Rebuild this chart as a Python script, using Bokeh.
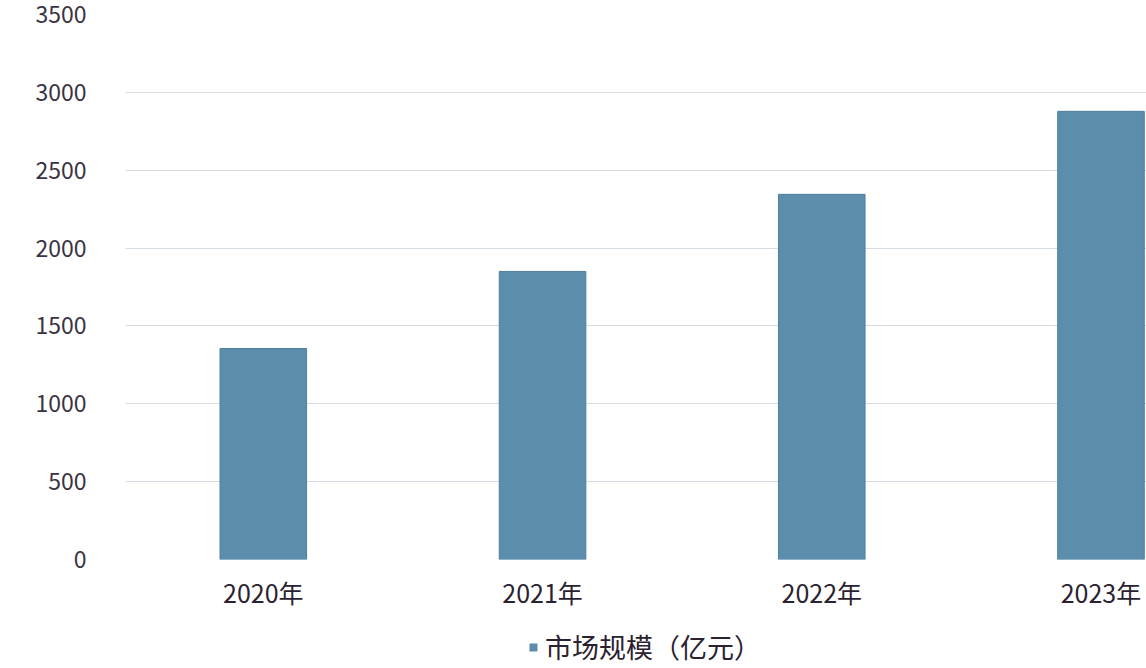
from bokeh.plotting import figure
from bokeh.layouts import column
from bokeh.models import Range1d, Legend, LegendItem, FixedTicker, ColumnDataSource
from bokeh.embed import file_html
from bokeh.resources import INLINE

years = ["2020年", "2021年", "2022年", "2023年"]
values = [1355, 1850, 2345, 2878]
series_name = "市场规模（亿元）"
y_ticks = [0, 500, 1000, 1500, 2000, 2500, 3000, 3500]

idx = list(range(len(years)))
src = ColumnDataSource(dict(x=idx, top=values, label=years))

FONT = "Noto Sans CJK SC"
BAR_FILL = "#5a8eac"
BAR_LINE = "#4f7f9c"

W = 1146
H_MAIN = 620
H_LEG = 48
LEFT = 125

p = figure(width=W, height=H_MAIN, output_backend="svg", toolbar_location=None,
           x_range=Range1d(-0.4935, 3.163), y_range=Range1d(0, 3500),
           min_border_left=LEFT, min_border_right=0, min_border_top=14, min_border_bottom=61)
p.outline_line_color = None
p.background_fill_color = "white"
p.border_fill_color = "white"

p.vbar(x="x", top="top", width=0.31, source=src,
       fill_color=BAR_FILL, line_color=BAR_LINE, line_width=1)

# y axis
p.yaxis.ticker = FixedTicker(ticks=y_ticks)
p.yaxis.axis_line_color = None
p.yaxis.major_tick_line_color = None
p.yaxis.minor_tick_line_color = None
p.yaxis.major_label_standoff = 33
p.yaxis.major_label_text_font = FONT
p.yaxis.major_label_text_font_size = "23px"
p.yaxis.major_label_text_color = "#3b3344"

# x axis
p.xaxis.ticker = FixedTicker(ticks=idx)
p.xaxis.major_label_overrides = {i: y for i, y in zip(idx, years)}
p.xaxis.axis_line_color = None
p.xaxis.major_tick_line_color = None
p.xaxis.minor_tick_line_color = None
p.xaxis.major_label_standoff = 8
p.xaxis.major_label_text_font = FONT
p.xaxis.major_label_text_font_size = "25px"
p.xaxis.major_label_text_color = "#2a2230"

p.xgrid.grid_line_color = None
p.ygrid.ticker = FixedTicker(ticks=y_ticks)
p.ygrid.grid_line_color = "#d5dbe2"
p.ygrid.grid_line_width = 1

# legend strip below the chart (same series; its bars lie well outside the strip's view)
lf = figure(width=W, height=H_LEG, output_backend="svg", toolbar_location=None,
            x_axis_type=None, y_axis_type=None,
            x_range=Range1d(100, 101), y_range=Range1d(5000, 5001),
            min_border_left=LEFT, min_border_right=0,
            min_border_top=0, min_border_bottom=0)
lf.outline_line_color = None
lf.xgrid.grid_line_color = None
lf.ygrid.grid_line_color = None
proxy = lf.vbar(x="x", top="top", width=0.31, source=src,
                fill_color=BAR_FILL, line_color=None)
legend = Legend(items=[LegendItem(label=series_name, renderers=[proxy])],
                location=(528 - LEFT, 2), orientation="horizontal",
                glyph_width=10, glyph_height=10, label_standoff=7,
                label_text_font=FONT, label_text_font_size="27px",
                label_text_color="#2a2230", border_line_color=None,
                background_fill_alpha=0, padding=0, margin=0)
lf.add_layout(legend, "center")

layout = column(p, lf, spacing=0)
open("out.html", "w").write(file_html(layout, INLINE))
